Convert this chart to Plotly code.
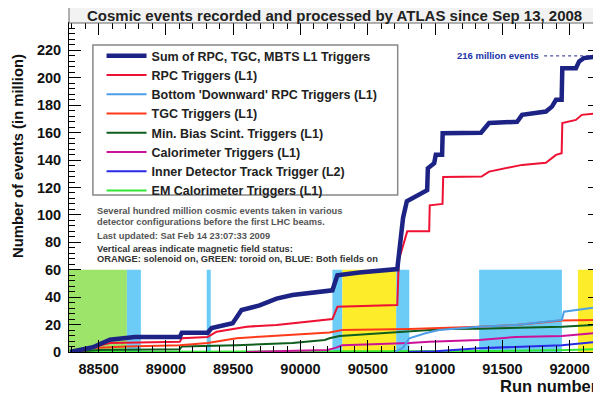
import plotly.graph_objects as go

# ---------------- data ----------------
run_sum = [88287, 88458, 88584, 88673, 88769, 89103, 89118, 89310, 89340, 89496, 89562, 89696,
           89822, 89940, 90089, 90237, 90274, 90437, 90719, 90745, 90762, 90790, 90900, 90941,
           90946, 90993, 91005, 91052, 91056, 91341, 91401, 91609, 91646, 91823, 91868, 91898,
           91940, 91945, 92046, 92070, 92105, 92216]
val_sum = [0, 3.5, 9, 10, 11, 11, 14, 14, 17.5, 21, 30.6, 34,
           39, 41.6, 43, 45, 56, 58, 60.5, 80, 98, 110, 116, 118,
           134, 137.7, 143.8, 143.8, 159.6, 160, 167, 168, 173, 175.4, 179, 184,
           184, 207, 207, 212, 214.4, 215.8]

run_rpc = [88350, 88458, 88584, 89103, 89118, 89310, 89377, 89525, 89600, 89822, 89992, 90237,
           90274, 90719, 90730, 90793, 90956, 90960, 91055, 91060, 91345, 91401, 91646, 91823,
           91898, 91940, 91945, 92046, 92090, 92216]
val_rpc = [0, 3.6, 6.5, 7.5, 10, 11, 14.8, 17.5, 18.5, 19.7, 21.4, 24,
           33, 34.3, 67, 88, 88, 107, 108, 127.7, 128, 131.6, 136.5, 138,
           143.8, 145, 167, 169.3, 173, 174.2]

run_bot = [90700, 90760, 90808, 90934, 91030, 91327, 91601, 91942, 91957, 92216]
val_bot = [0, 3, 10, 13.8, 16, 18.5, 19.7, 23.4, 29.4, 32.8]

run_tgc = [88330, 88458, 88710, 89103, 89310, 89525, 89696, 89940, 90215, 90311, 90808,
           91327, 91601, 91942, 92216]
val_tgc = [0, 3, 4, 5, 6.5, 10, 11.2, 12.4, 14.2, 16, 16.8,
           18.5, 19.7, 22.9, 23.4]

run_mb = [88300, 88500, 89103, 89118, 89525, 89940, 90180, 90215, 90290, 90808, 91075,
          91327, 91601, 91942, 92216]
val_mb = [0, 1.5, 2, 4, 5, 6.5, 8.8, 10, 11.7, 14.8, 16.8,
          17, 17.8, 18.5, 20]

run_cal = [89600, 90200, 90260, 90311, 90808, 90956, 91327, 91601, 91942, 92216]
val_cal = [0, 1.5, 3, 5, 6.5, 7.5, 8.8, 11, 11.7, 14]

run_id = [90800, 91000, 91327, 91697, 91942, 92216]
val_id = [0, 0.5, 2.7, 3.9, 5, 7.5]

run_em = [88300, 90800, 91500, 92000, 92216]
val_em = [0, 0.3, 0.8, 1.5, 2.2]

series_names = [
    "Sum of RPC, TGC, MBTS L1 Triggers",
    "RPC Triggers (L1)",
    "Bottom 'Downward' RPC Triggers (L1)",
    "TGC Triggers (L1)",
    "Min. Bias Scint. Triggers (L1)",
    "Calorimeter Triggers (L1)",
    "Inner Detector Track Trigger (L2)",
    "EM Calorimeter Triggers (L1)",
]

# magnetic field periods (run ranges) and status
field_start = [88280, 88710, 89303, 90237, 90311, 90711, 91327, 92061]
field_end = [88710, 88814, 89333, 90311, 90711, 90808, 91942, 92230]
field_status = ["toroid", "both", "both", "both", "solenoid", "both", "both", "solenoid"]
field_level = 60

x_ticks = [88500, 89000, 89500, 90000, 90500, 91000, 91500, 92000]
x_tick_labels = ["88500", "89000", "89500", "90000", "90500", "91000", "91500", "92000"]
y_ticks = [0, 20, 40, 60, 80, 100, 120, 140, 160, 180, 200, 220]
y_tick_labels = ["0", "20", "40", "60", "80", "100", "120", "140", "160", "180", "200", "220"]

total_label = "216 million events"
total_value = 216

# ---------------- styles ----------------
FONT = "Liberation Sans"
colors = ["#1c2385", "#ee1133", "#4d9ee8", "#ff3a1a", "#0f5e1e", "#cc1199", "#2a2ae6", "#33e633"]
widths = [4.5, 2, 2, 2, 2, 2, 2, 2]
field_colors = {"toroid": "#9de46a", "both": "#6cccf5", "solenoid": "#fdec2a"}

runs = [run_sum, run_rpc, run_bot, run_tgc, run_mb, run_cal, run_id, run_em]
vals = [val_sum, val_rpc, val_bot, val_tgc, val_mb, val_cal, val_id, val_em]

fig = go.Figure()
order = list(range(len(series_names)))
for i in reversed(order):
    fig.add_trace(go.Scatter(
        x=runs[i], y=vals[i], mode="lines", name="<b>" + series_names[i] + "</b>",
        line=dict(color=colors[i], width=widths[i]),
        legendrank=i + 1, showlegend=True,
    ))

for s, e, st in zip(field_start, field_end, field_status):
    fig.add_shape(type="rect", xref="x", yref="y", x0=s, x1=e, y0=0, y1=field_level,
                  fillcolor=field_colors[st], line=dict(width=0), layer="below")

# legend box
fig.add_shape(type="rect", xref="paper", yref="paper", x0=0.045, x1=0.619, y0=0.477, y1=0.933,
              fillcolor="white", line=dict(color="#888888", width=1.5), layer="above")

# title box
fig.add_shape(type="rect", xref="paper", yref="paper", x0=0.0, x1=1.0, y0=1.0, y1=1.061,
              fillcolor="#f2f2f2", line=dict(color="#666666", width=1), layer="above")
fig.add_annotation(text="<b>Cosmic events recorded and processed by ATLAS since Sep 13, 2008</b>",
                   xref="paper", yref="paper", x=0.5, y=(352 - 15.5) / 329, showarrow=False,
                   xanchor="center", yanchor="middle",
                   font=dict(family=FONT, size=15, color="#222222"))

# total events marker
fig.add_shape(type="line", xref="x", yref="y", x0=91810, x1=92160, y0=total_value, y1=total_value,
              line=dict(color="#1c2385", width=1, dash="dot"))
fig.add_annotation(text="<b>" + total_label + "</b>", xref="x", yref="y", x=91790, y=total_value,
                   showarrow=False, xanchor="right", yanchor="middle",
                   font=dict(family=FONT, size=9.5, color="#2233aa"))

# info text
info = [
    ("Several hundred million cosmic events taken in various", 211, "#555555"),
    ("detector configurations before the first LHC beams.", 221.5, "#555555"),
    ("Last updated: Sat Feb 14 23:07:33 2009", 236, "#555555"),
    ("Vertical areas indicate magnetic field status:", 248.5, "#333333"),
    ("ORANGE: solenoid on, GREEN: toroid on, BLUE: Both fields on", 259, "#333333"),
]
for txt, py, col in info:
    fig.add_annotation(text="<b>" + txt + "</b>", xref="paper", yref="paper",
                       x=(95 - 69) / 531, y=(352 - py) / 329, showarrow=False,
                       xanchor="left", yanchor="middle",
                       font=dict(family=FONT, size=9.3, color=col))

# axis titles
fig.add_annotation(text="<b>Number of events (in million)</b>", xref="paper", yref="paper",
                   x=(18 - 69) / 531, y=(352 - 156) / 329, textangle=-90, showarrow=False,
                   xanchor="center", yanchor="middle",
                   font=dict(family=FONT, size=14.8, color="#111111"))
fig.add_annotation(text="<b>Run number</b>", xref="paper", yref="paper",
                   x=1.0, y=(352 - 386) / 329, showarrow=False,
                   xanchor="right", yanchor="middle",
                   font=dict(family=FONT, size=16.5, color="#111111"))

fig.update_xaxes(range=[88280, 92225], tickmode="array", tickvals=x_ticks, ticktext=x_tick_labels,
                 ticks="inside", ticklen=12, automargin=False,
                 tickcolor="black", showline=True, linecolor="black", linewidth=1,
                 mirror="allticks", showgrid=False, zeroline=False,
                 tickfont=dict(family=FONT, size=14.5, color="#111111", weight="bold"),
                 minor=dict(dtick=100, tick0=88500, ticks="inside", ticklen=6, tickcolor="black",
                            showgrid=False),
                 ticklabelstandoff=4)
fig.update_yaxes(range=[0, 240], tickmode="array", tickvals=y_ticks, ticktext=y_tick_labels,
                 ticks="inside", ticklen=12, automargin=False,
                 tickcolor="black", showline=True, linecolor="black", linewidth=1,
                 mirror="allticks", showgrid=False, zeroline=False,
                 tickfont=dict(family=FONT, size=14.5, color="#111111", weight="bold"),
                 minor=dict(dtick=4, tick0=0, ticks="inside", ticklen=6, tickcolor="black",
                            showgrid=False),
                 ticklabelstandoff=4)

# the page body has an 8px margin, so the figure is 8px smaller and shifted accordingly
fig.update_layout(
    width=593, height=393,
    margin=dict(l=61, r=1, t=15, b=49, autoexpand=False),
    paper_bgcolor="white", plot_bgcolor="white",
    font=dict(family=FONT),
    legend=dict(x=0.0613, y=0.945, xanchor="left", yanchor="top", bgcolor="rgba(0,0,0,0)",
                borderwidth=0, traceorder="normal",
                font=dict(family=FONT, size=12.5, color="#222222"), itemwidth=40,
                tracegroupgap=0),
    showlegend=True,
)

fig.write_html("out.html")
